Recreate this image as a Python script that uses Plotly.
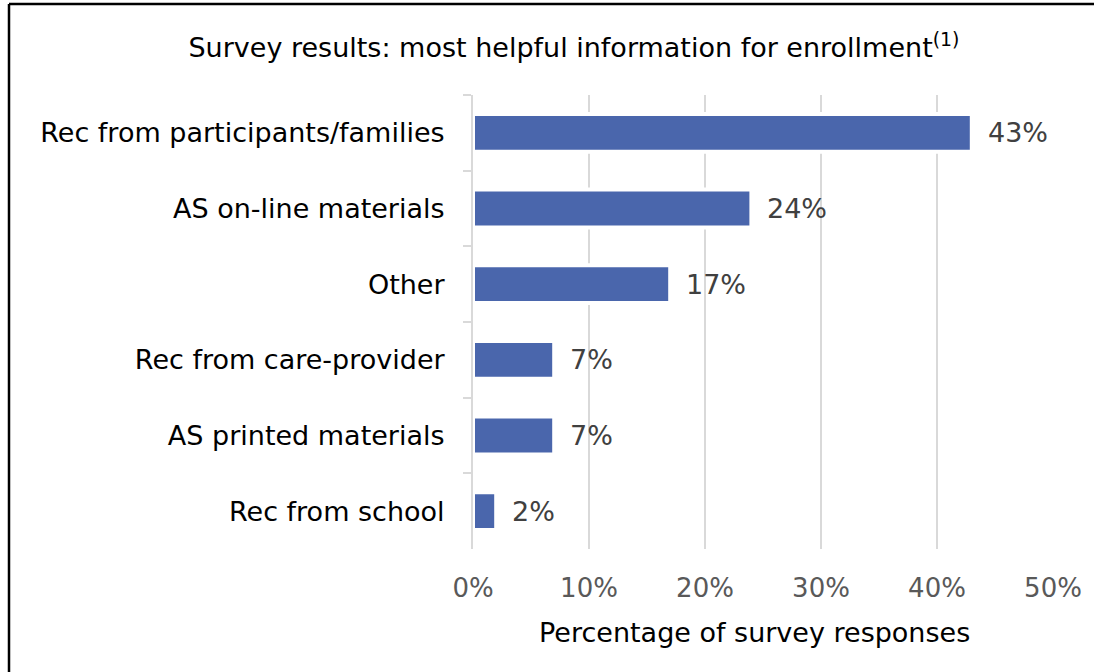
import plotly.graph_objects as go

categories = ["Rec from participants/families", "AS on-line materials", "Other",
              "Rec from care-provider", "AS printed materials", "Rec from school"]
values = [0.43, 0.24, 0.17, 0.07, 0.07, 0.02]
x_ticks = [0, 0.1, 0.2, 0.3, 0.4, 0.5]
x_tick_labels = ["0%", "10%", "20%", "30%", "40%", "50%"]
title_text = "Survey results: most helpful information for enrollment<sup>(1)</sup>"
x_title = "Percentage of survey responses"

W, H = 1094, 672
L, R, T, B = 473, 41, 95, 123
pw, ph = W - L - R, H - T - B

def px(x):
    return (x - L) / pw

def py(y):
    return (H - B - y) / ph

FONT = "DejaVu Sans"

fig = go.Figure(go.Bar(
    x=values, y=categories, orientation="h",
    marker=dict(color="#4a66ac", line=dict(color="white", width=4)),
    width=0.5, hoverinfo="skip",
))

annotations = []
for c, v in zip(categories, values):
    annotations.append(dict(x=v, y=c, xref="x", yref="y", text=f"{round(v*100)}%",
                            showarrow=False, xanchor="left", yanchor="middle", xshift=14,
                            font=dict(family=FONT, size=27, color="#404040")))
annotations.append(dict(x=px(754), y=py(632), xref="paper", yref="paper", text=x_title,
                        showarrow=False, xanchor="center", yanchor="middle",
                        font=dict(family=FONT, size=27, color="#000000")))

fig.update_layout(
    width=W, height=H,
    margin=dict(l=L, r=R, t=T, b=B),
    paper_bgcolor="white", plot_bgcolor="white",
    showlegend=False,
    title=dict(text=title_text, x=574 / W, xanchor="center", y=1 - 48 / H, yanchor="middle",
               xref="container", yref="container",
               font=dict(family=FONT, size=27, color="#000000")),
    xaxis=dict(range=[0, 0.5], tickvals=x_ticks, ticktext=x_tick_labels,
               showgrid=True, gridcolor="#d9d9d9", gridwidth=2,
               zeroline=False, showline=False, ticks="",
               ticklabelstandoff=21,
               tickfont=dict(family=FONT, size=26, color="#595959")),
    yaxis=dict(autorange="reversed", showline=True, linecolor="#d9d9d9", linewidth=2,
               ticks="outside", ticklen=8, tickcolor="#d9d9d9", tickwidth=2,
               tickson="boundaries", showgrid=False, zeroline=False,
               ticklabelstandoff=21,
               tickfont=dict(family=FONT, size=27, color="#000000")),
    annotations=annotations,
    shapes=[
        dict(type="line", xref="paper", yref="paper", x0=px(9), x1=px(W), y0=py(4), y1=py(4),
             line=dict(color="black", width=2.5)),
        dict(type="line", xref="paper", yref="paper", x0=px(9), x1=px(9), y0=py(4), y1=py(H),
             line=dict(color="black", width=2.5)),
    ],
)

fig.write_html("out.html", config={"displayModeBar": False},
               post_script="document.body.style.margin='0';")
